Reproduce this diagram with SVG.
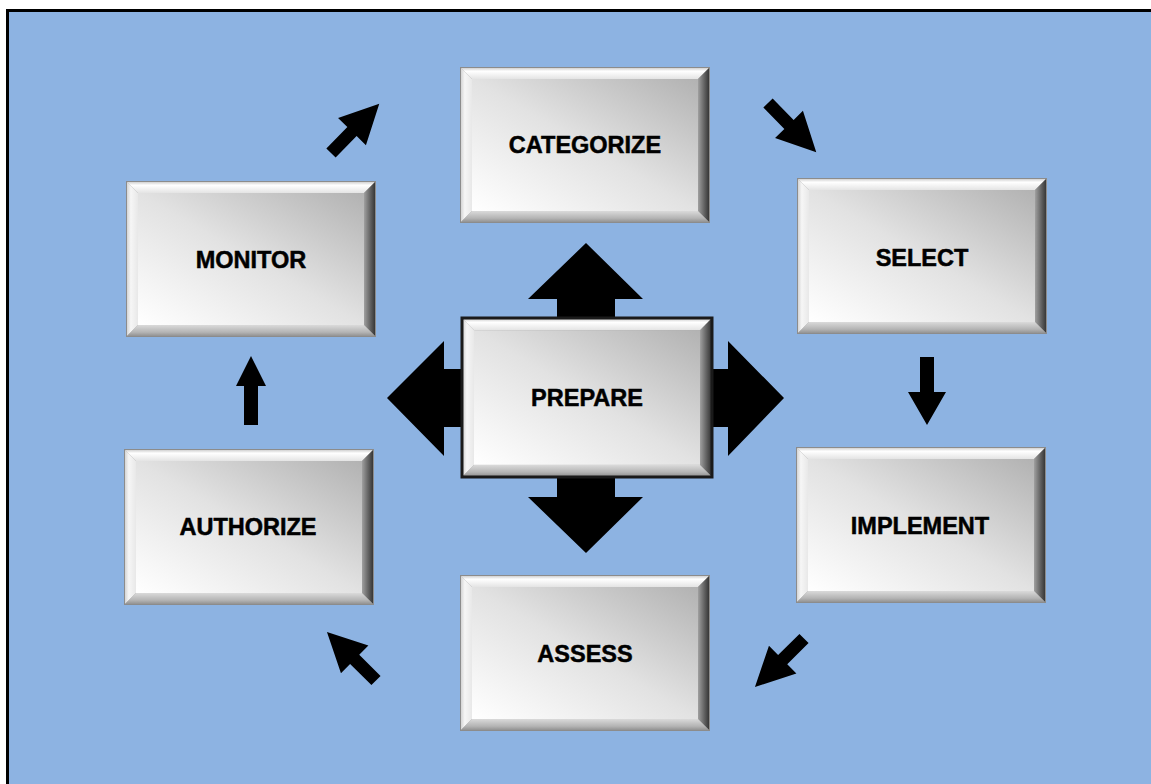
<svg xmlns="http://www.w3.org/2000/svg" xmlns:xlink="http://www.w3.org/1999/xlink" width="1151" height="784" viewBox="0 0 1151 784">
<style>
.lbl{font-family:"Liberation Sans",Arial,sans-serif;font-weight:bold;font-size:23.5px;fill:#000;stroke:#000;stroke-width:0.5px;text-anchor:middle}
.arr{fill:#000}
</style>
<defs>
<linearGradient id="face" x1="0" y1="1" x2="1" y2="0">
<stop offset="0" stop-color="#ffffff"/>
<stop offset="0.5" stop-color="#e2e2e2"/>
<stop offset="1" stop-color="#b2b2b2"/>
</linearGradient>
<linearGradient id="topB" x1="0" y1="0" x2="0" y2="1">
<stop offset="0" stop-color="#c4c4c4"/>
<stop offset="0.35" stop-color="#ffffff"/>
<stop offset="1" stop-color="#e4e4e4"/>
</linearGradient>
<linearGradient id="leftB" x1="0" y1="0" x2="1" y2="0">
<stop offset="0" stop-color="#cccccc"/>
<stop offset="0.4" stop-color="#f6f6f6"/>
<stop offset="1" stop-color="#e8e8e8"/>
</linearGradient>
<linearGradient id="rightB" x1="0" y1="0" x2="1" y2="0">
<stop offset="0" stop-color="#a0a0a0"/>
<stop offset="0.6" stop-color="#5a5a5a"/>
<stop offset="1" stop-color="#2e2e2e"/>
</linearGradient>
<linearGradient id="botB" x1="0" y1="0" x2="0" y2="1">
<stop offset="0" stop-color="#dadada"/>
<stop offset="0.6" stop-color="#b4b4b4"/>
<stop offset="1" stop-color="#8a8a8a"/>
</linearGradient>
<g id="bevel">
<rect x="0" y="0" width="250" height="156" fill="#9a9a9a"/>
<polygon points="0,0 250,0 238,12 12,12" fill="url(#topB)"/>
<polygon points="0,0 12,12 12,144 0,156" fill="url(#leftB)"/>
<polygon points="250,0 250,156 238,144 238,12" fill="url(#rightB)"/>
<polygon points="0,156 12,144 238,144 250,156" fill="url(#botB)"/>
<rect x="12" y="12" width="226" height="132" fill="url(#face)"/>
<rect x="0.5" y="0.5" width="249" height="155" fill="none" stroke="#8c8c8c" stroke-width="1"/>
</g>
<polygon id="sarr" points="0,-6.5 30,-6.5 30,-19.5 69,0 30,19.5 30,6.5 0,6.5"/>
</defs>
<rect x="0" y="0" width="1151" height="784" fill="#ffffff"/>
<rect x="7.5" y="10.5" width="1160" height="800" fill="#8db3e2" stroke="#000" stroke-width="3"/>

<g id="connectors" class="arr">
<polygon points="557,320 557,299 528,299 586,243 643,299 615,299 615,320"/>
<polygon points="557,475 557,497 528,497 586,553 643,497 615,497 615,475"/>
<polygon points="464,369 444,369 444,341 387,398 444,456 444,427 464,427"/>
<polygon points="710,369 728,369 728,341 784,398 728,456 728,427 710,427"/>
<use href="#sarr" transform="translate(331,153) rotate(-45.6)"/>
<use href="#sarr" transform="translate(768,103) rotate(45.6)"/>
<polygon points="920,357 934,357 934,392 946,392 927,425 908,392 920,392"/>
<use href="#sarr" transform="translate(804,638.5) rotate(135.3)"/>
<use href="#sarr" transform="translate(376,680.5) rotate(-135.3)"/>
<polygon points="244,425 244,386 236,386 251,356 266,386 258,386 258,425"/>
</g>

<g id="node-categorize">
<use href="#bevel" transform="translate(460,67)"/>
<text class="lbl" x="585" y="153">CATEGORIZE</text>
</g>
<g id="node-select">
<use href="#bevel" transform="translate(797,178)"/>
<text class="lbl" x="922" y="266">SELECT</text>
</g>
<g id="node-implement">
<use href="#bevel" transform="translate(796,447)"/>
<text class="lbl" x="920" y="534">IMPLEMENT</text>
</g>
<g id="node-assess">
<use href="#bevel" transform="translate(460,575)"/>
<text class="lbl" x="585" y="662">ASSESS</text>
</g>
<g id="node-authorize">
<use href="#bevel" transform="translate(124,449)"/>
<text class="lbl" x="248" y="535">AUTHORIZE</text>
</g>
<g id="node-monitor">
<use href="#bevel" transform="translate(126,181)"/>
<text class="lbl" x="251" y="268">MONITOR</text>
</g>
<g id="node-prepare">
<use href="#bevel" transform="translate(462,318) scale(1,1.02)"/>
<rect x="462" y="318" width="250" height="159" fill="none" stroke="#1a1a1a" stroke-width="3"/>
<text class="lbl" x="587" y="406">PREPARE</text>
</g>
</svg>
